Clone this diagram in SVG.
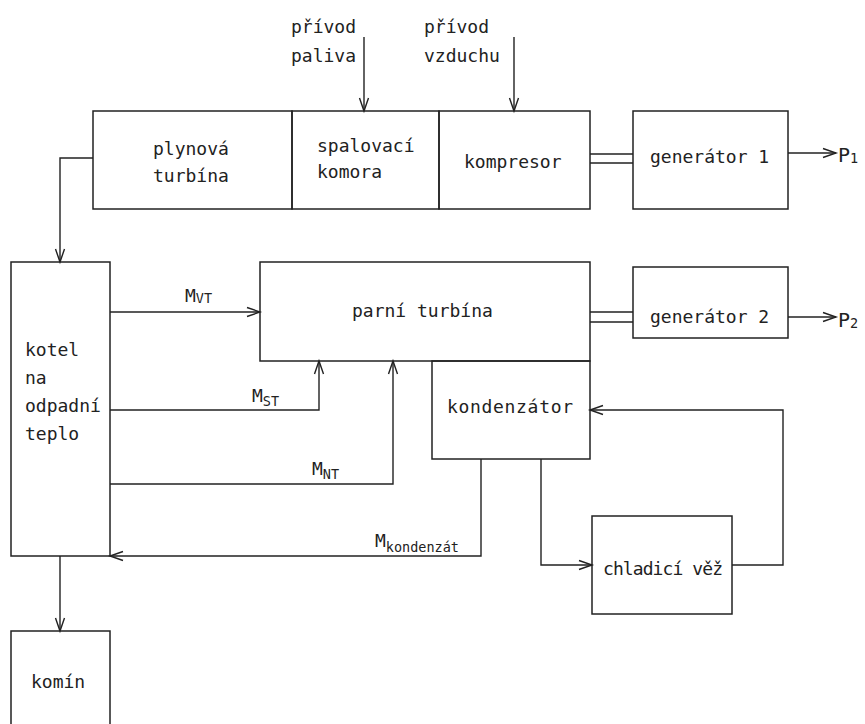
<svg xmlns="http://www.w3.org/2000/svg" width="865" height="724" viewBox="0 0 865 724">
<style>
.box{fill:none;stroke:#222;stroke-width:1.5}
.ln{fill:none;stroke:#222;stroke-width:1.4}
.t{font-family:"DejaVu Sans Mono","Liberation Mono",monospace;font-size:18px;fill:#222}
.s{font-size:13.5px}
.p{font-size:20px}
</style>
<defs>
<marker id="ah" markerUnits="userSpaceOnUse" markerWidth="16" markerHeight="12" refX="14" refY="6" orient="auto" overflow="visible">
<path d="M1,1.5 L14,6 L1,10.5" fill="none" stroke="#222" stroke-width="1.4"/>
</marker>
</defs>
<rect width="865" height="724" fill="#fff"/>

<g id="plynova-turbina">
<rect class="box" x="93" y="111" width="199" height="98"/>
<text class="t" x="153" y="155">plynová</text>
<text class="t" x="153" y="182">turbína</text>
</g>
<g id="spalovaci-komora">
<rect class="box" x="292" y="111" width="147" height="98"/>
<text class="t" x="317" y="152">spalovací</text>
<text class="t" x="317" y="178">komora</text>
</g>
<g id="kompresor">
<rect class="box" x="439" y="111" width="151" height="98"/>
<text class="t" x="464" y="168">kompresor</text>
</g>
<g id="generator1">
<rect class="box" x="633" y="111" width="155" height="98"/>
<text class="t" x="650" y="163">generátor 1</text>
</g>
<g id="kotel">
<rect class="box" x="11" y="262" width="99" height="294"/>
<text class="t" x="25" y="356">kotel</text>
<text class="t" x="25" y="384">na</text>
<text class="t" x="25" y="412">odpadní</text>
<text class="t" x="25" y="440">teplo</text>
</g>
<g id="parni-turbina">
<rect class="box" x="260" y="262" width="330" height="99"/>
<text class="t" x="352" y="317">parní turbína</text>
</g>
<g id="generator2">
<rect class="box" x="633" y="267" width="155" height="71"/>
<text class="t" x="650" y="323">generátor 2</text>
</g>
<g id="kondenzator">
<rect class="box" x="432" y="361" width="158" height="98"/>
<text class="t" x="447" y="413" textLength="126" lengthAdjust="spacing">kondenzátor</text>
</g>
<g id="chladici-vez">
<rect class="box" x="592" y="516" width="140" height="98"/>
<text class="t" x="603" y="575" textLength="120" lengthAdjust="spacing">chladicí věž</text>
</g>
<g id="komin">
<rect class="box" x="11" y="631" width="99" height="100"/>
<text class="t" x="31" y="688">komín</text>
</g>
<g id="labels">
<text class="t" x="291" y="33">přívod</text>
<text class="t" x="291" y="62">paliva</text>
<text class="t" x="424" y="33">přívod</text>
<text class="t" x="424" y="62">vzduchu</text>
<text class="t p" x="838" y="162">P<tspan class="s" dy="1">1</tspan></text>
<text class="t p" x="838" y="327">P<tspan class="s" dy="1">2</tspan></text>
<text class="t" x="185" y="302">M<tspan class="s" dy="1">VT</tspan></text>
<text class="t" x="252" y="402">M<tspan class="s" dy="4">ST</tspan></text>
<text class="t" x="312" y="475">M<tspan class="s" dy="4">NT</tspan></text>
<text class="t" x="375" y="547">M<tspan class="s" dy="5">kondenzát</tspan></text>
</g>

<g id="connectors">
<path class="ln" d="M364,37 V111" marker-end="url(#ah)"/>
<path class="ln" d="M514,37 V111" marker-end="url(#ah)"/>
<path class="ln" d="M590,154 H633 M590,163 H633"/>
<path class="ln" d="M590,312 H633 M590,322 H633"/>
<path class="ln" d="M788,153 H836" marker-end="url(#ah)"/>
<path class="ln" d="M788,317 H836" marker-end="url(#ah)"/>
<path class="ln" d="M93,158 H60 V262" marker-end="url(#ah)"/>
<path class="ln" d="M110,312 H260" marker-end="url(#ah)"/>
<path class="ln" d="M110,410 H319 V361" marker-end="url(#ah)"/>
<path class="ln" d="M110,484 H393 V361" marker-end="url(#ah)"/>
<path class="ln" d="M481,459 V556 H110" marker-end="url(#ah)"/>
<path class="ln" d="M541,459 V565 H592" marker-end="url(#ah)"/>
<path class="ln" d="M732,565 H783 V410 H590" marker-end="url(#ah)"/>
<path class="ln" d="M60,556 V631" marker-end="url(#ah)"/>
</g>
</svg>
